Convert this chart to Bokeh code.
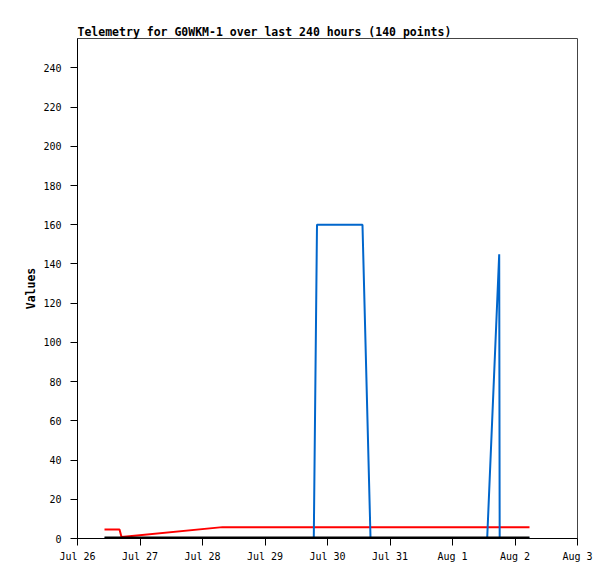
import pandas as pd
from bokeh.plotting import figure
from bokeh.models import Range1d, FixedTicker
from bokeh.embed import file_html
from bokeh.resources import INLINE

title_text = "Telemetry for G0WKM-1 over last 240 hours (140 points)"
y_label = "Values"

tick_dates = ["2023-07-26", "2023-07-27", "2023-07-28", "2023-07-29", "2023-07-30",
              "2023-07-31", "2023-08-01", "2023-08-02", "2023-08-03"]
tick_labels = ["Jul 26", "Jul 27", "Jul 28", "Jul 29", "Jul 30",
               "Jul 31", "Aug 1", "Aug 2", "Aug 3"]
y_ticks = list(range(0, 241, 20))
y_max = 255

red_times = ["2023-07-26 10:22", "2023-07-26 16:08", "2023-07-26 16:54",
             "2023-07-28 07:41", "2023-08-02 05:34"]
red_values = [4.6, 4.6, 0.8, 5.8, 5.8]

blue_times = ["2023-07-26 10:22", "2023-07-29 18:44", "2023-07-29 19:58",
              "2023-07-30 13:26", "2023-07-30 16:31", "2023-08-01 13:19",
              "2023-08-01 17:56", "2023-08-01 18:07", "2023-08-02 05:34"]
blue_values = [0, 0, 160, 160, 0, 0, 145, 0, 0]

black_times = ["2023-07-26 10:22", "2023-08-02 05:34"]
black_values = [0, 0]

FONT = "DejaVu Sans Mono"

tick_ts = pd.to_datetime(tick_dates)
tick_ms = [int(t.value // 10**6) for t in tick_ts]

p = figure(width=607, height=571, output_backend="svg", toolbar_location=None,
           x_range=Range1d(tick_ms[0], tick_ms[-1]), y_range=Range1d(0, y_max),
           min_border_left=77, min_border_right=30, min_border_top=38,
           min_border_bottom=33, title=title_text)

p.line(pd.to_datetime(red_times), red_values, line_color="#ff0000", line_width=2)
p.line(pd.to_datetime(blue_times), blue_values, line_color="#0066cc", line_width=2)
p.line(pd.to_datetime(black_times), black_values, line_color="#000000", line_width=4)

p.xgrid.visible = False
p.ygrid.visible = False
p.outline_line_color = "#444444"
p.outline_line_width = 1
p.background_fill_color = "white"
p.border_fill_color = "white"

p.title.text_font = FONT
p.title.text_font_size = "11.5px"
p.title.text_font_style = "bold"
p.title.align = "left"
p.title.offset = 0
p.title.standoff = 0
p.title.text_color = "black"

p.xaxis.ticker = FixedTicker(ticks=tick_ms)
p.xaxis.major_label_overrides = {ms: lab for ms, lab in zip(tick_ms, tick_labels)}
p.yaxis.ticker = FixedTicker(ticks=y_ticks)
p.yaxis.axis_label = y_label

for ax in (p.xaxis[0], p.yaxis[0]):
    ax.major_tick_out = 7
    ax.major_tick_in = 0
    ax.minor_tick_out = 0
    ax.minor_tick_in = 0
    ax.axis_line_color = "black"
    ax.major_tick_line_color = "black"
    ax.major_label_text_font = FONT
    ax.major_label_text_font_size = "10px"
    ax.major_label_text_color = "black"
    ax.axis_label_text_font = FONT
    ax.axis_label_text_font_size = "11.5px"
    ax.axis_label_text_font_style = "bold"
    ax.axis_label_text_color = "black"

p.yaxis.major_label_standoff = 9
p.xaxis.major_label_standoff = 5
p.yaxis.axis_label_standoff = 2

open("out.html", "w").write(file_html(p, INLINE))
